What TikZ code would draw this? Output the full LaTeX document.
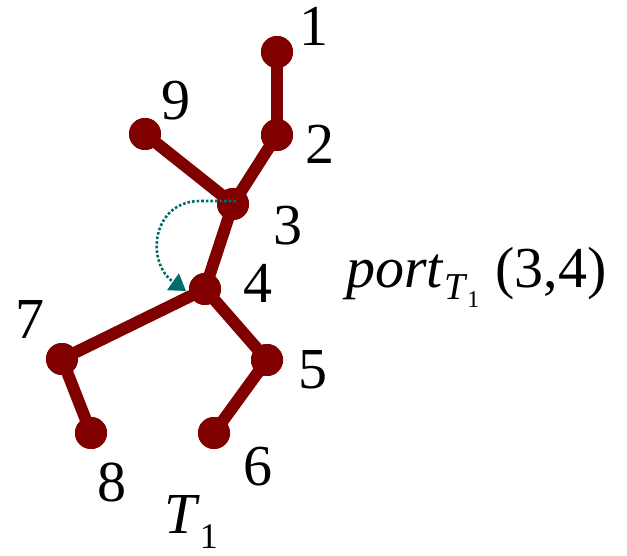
\documentclass[tikz,border=0pt]{standalone}
\usepackage{fontspec}
\setmainfont{Liberation Serif}
\newfontfamily\timesf{Liberation Serif}
\usetikzlibrary{arrows.meta}
\definecolor{dred}{RGB}{128,0,0}
\definecolor{dteal}{RGB}{0,108,108}
\begin{document}
\begin{tikzpicture}[x=1pt,y=-1pt,
  vert/.style={circle,fill=dred,minimum size=32pt,inner sep=0},
  edge/.style={draw=dred,line width=12pt},
  lab/.style={anchor=base,inner sep=0,font=\timesf\fontsize{58}{60}\selectfont},
  portarrow/.style={draw=dteal,line width=2.6pt,dotted,-{Triangle[length=16pt,width=20pt]}}]
\useasboundingbox (0,0) rectangle (627,556);
\node[vert] (n1) at (277,52) {};
\node[vert] (n2) at (277,135) {};
\node[vert] (n3) at (233,204) {};
\node[vert] (n4) at (205,289) {};
\node[vert] (n5) at (267,360) {};
\node[vert] (n6) at (214,433) {};
\node[vert] (n7) at (62,359) {};
\node[vert] (n8) at (91,433) {};
\node[vert] (n9) at (145,134) {};
\draw[edge] (n1.center) -- (n2.center);
\draw[edge] (n2.center) -- (n3.center);
\draw[edge] (n9.center) -- (n3.center);
\draw[edge] (n3.center) -- (n4.center);
\draw[edge] (n4.center) -- (n5.center);
\draw[edge] (n5.center) -- (n6.center);
\draw[edge] (n4.center) -- (n7.center);
\draw[edge] (n7.center) -- (n8.center);
\foreach \n in {n1,n2,n3,n4,n5,n6,n7,n8,n9} \node[vert] at (\n) {};
\node[lab] (l1) at (314,46) {1};
\node[lab] (l2) at (320,164) {2};
\node[lab] (l3) at (288,245) {3};
\node[lab] (l4) at (258,302) {4};
\node[lab] (l5) at (313,388) {5};
\node[lab] (l6) at (258,485) {6};
\node[lab] (l7) at (30,338) {7};
\node[lab] (l8) at (112,501) {8};
\node[lab] (l9) at (176,120) {9};
\node[lab,anchor=base west] (t1) at (164,533) {\textit{T}\raisebox{-15pt}{\fontsize{36}{38}\selectfont 1}};
\node[lab,anchor=base west] (port) at (346,288) {\textit{port}\raisebox{-12pt}{\fontsize{38}{40}\selectfont\textit{T}\raisebox{-8pt}{\fontsize{24}{26}\selectfont 1}}\kern16pt(3,4)};
\coordinate (ps) at (236,201);
\coordinate (pe) at (186,291);
\draw[portarrow] (ps) -- (200,201) .. controls (152,201) and (145,262) .. (pe);
\end{tikzpicture}
\end{document}
